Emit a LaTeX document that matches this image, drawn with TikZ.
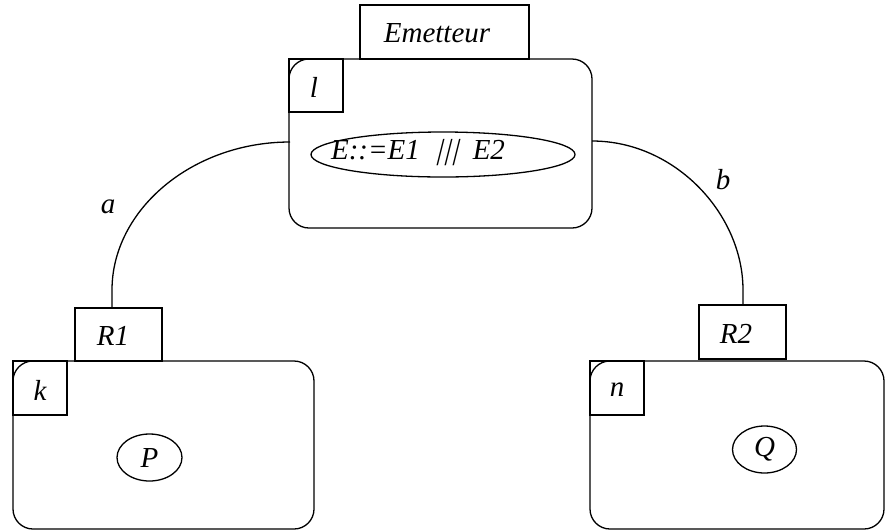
\documentclass[tikz,border=0pt]{standalone}
\usepackage{fontspec}
\setmainfont{Liberation Serif}
\newfontfamily\slbar[FakeSlant=0.25]{Liberation Serif}
\usetikzlibrary{shapes.geometric}
\begin{document}
\begin{tikzpicture}[x=1pt,y=-1pt,
  line/.style={line width=1.3pt},
  frame/.style={line, rounded corners=20pt},
  tag/.style={font=\fontsize{29}{31}\selectfont\itshape, inner sep=0pt},
  oval/.style={line, draw, ellipse, inner sep=0pt}]
\useasboundingbox (0,0) rectangle (886,531);
% top process
\draw[line] (360,59) rectangle (529,5);
\node[tag] (em) at (437,33) {Emetteur};
\draw[frame] (289,59) rectangle (592,228);
\draw[line] (289,59) rectangle (343,112);
\node[tag] (l) at (314,87) {l};
\node[oval, minimum width=264pt, minimum height=45pt] (e) at (443,154.5) {};
\node[tag] (et) at (418,153) {E::=E1\ \ {\slbar |||}\ \ E2};
% bottom left
\draw[line] (75,308) rectangle (162,361);
\node[tag] (r1) at (113,336) {R1};
\draw[frame] (13,361) rectangle (314,529);
\draw[line] (13,361) rectangle (67,415);
\node[tag] (k) at (40,390) {k};
\node[oval, minimum width=65pt, minimum height=47pt] (p) at (149.5,457.5) {};
\node[tag] at (p) {P};
% bottom right
\draw[line] (699,305) rectangle (786,359);
\node[tag] (r2) at (736,334) {R2};
\draw[frame] (590,361) rectangle (884,529);
\draw[line] (590,361) rectangle (644,415);
\node[tag] (n) at (617,390) {n};
\node[oval, minimum width=64pt, minimum height=47pt] (q) at (764.5,449.5) {};
\node[tag] at (q) {Q};
% connectors
\coordinate (a1) at (290,142);
\coordinate (a2) at (112,308);
\coordinate (b1) at (592,141);
\coordinate (b2) at (743,305);
\draw[line] (a1) .. controls (192,142) and (112,210) .. (112,290) -- (a2);
\draw[line] (b1) .. controls (675,141) and (743,214) .. (743,290) -- (b2);
\node[tag] (la) at (108,207) {a};
\node[tag] (lb) at (723,180) {b};
\end{tikzpicture}
\end{document}
